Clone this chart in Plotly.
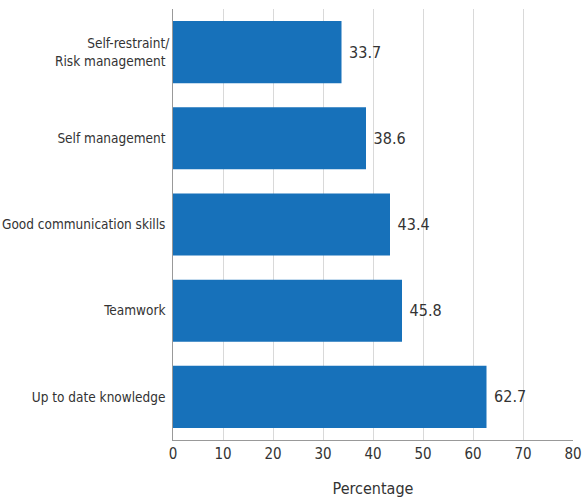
import plotly.graph_objects as go

categories = ["Up to date knowledge", "Teamwork", "Good communication skills",
              "Self management", "Self-restraint/<br>Risk management"]
values = [62.7, 45.8, 43.4, 38.6, 33.7]
x_ticks = [0, 10, 20, 30, 40, 50, 60, 70, 80]

FONT = "DejaVu Sans Condensed, Liberation Sans Narrow, sans-serif"

fig = go.Figure(go.Bar(
    x=values, y=categories, orientation="h",
    marker=dict(color="#1771ba", line=dict(width=0)),
    text=[f" {v:.1f}" for v in values], textposition="outside",
    textfont=dict(size=16, color="#333333", family=FONT),
    cliponaxis=False,
))
fig.update_layout(
    width=585, height=500,
    margin=dict(l=173, r=12, t=9, b=60, autoexpand=False),
    paper_bgcolor="white", plot_bgcolor="white",
    bargap=0.28, showlegend=False,
    font=dict(family=FONT, size=14, color="#333333"),
    xaxis=dict(range=[0, 80], tickvals=x_ticks, showgrid=True, gridcolor="#d9d9d9",
               gridwidth=1, showline=True, linecolor="#999999", linewidth=1,
               zeroline=False, ticks="", tickfont=dict(size=15), automargin=False,
               title=dict(text="Percentage", font=dict(size=16), standoff=20)),
    yaxis=dict(showline=True, linecolor="#999999", linewidth=1, ticks="",
               tickfont=dict(size=13.5), ticksuffix=" ", automargin=False),
)
fig.write_html("out.html")
